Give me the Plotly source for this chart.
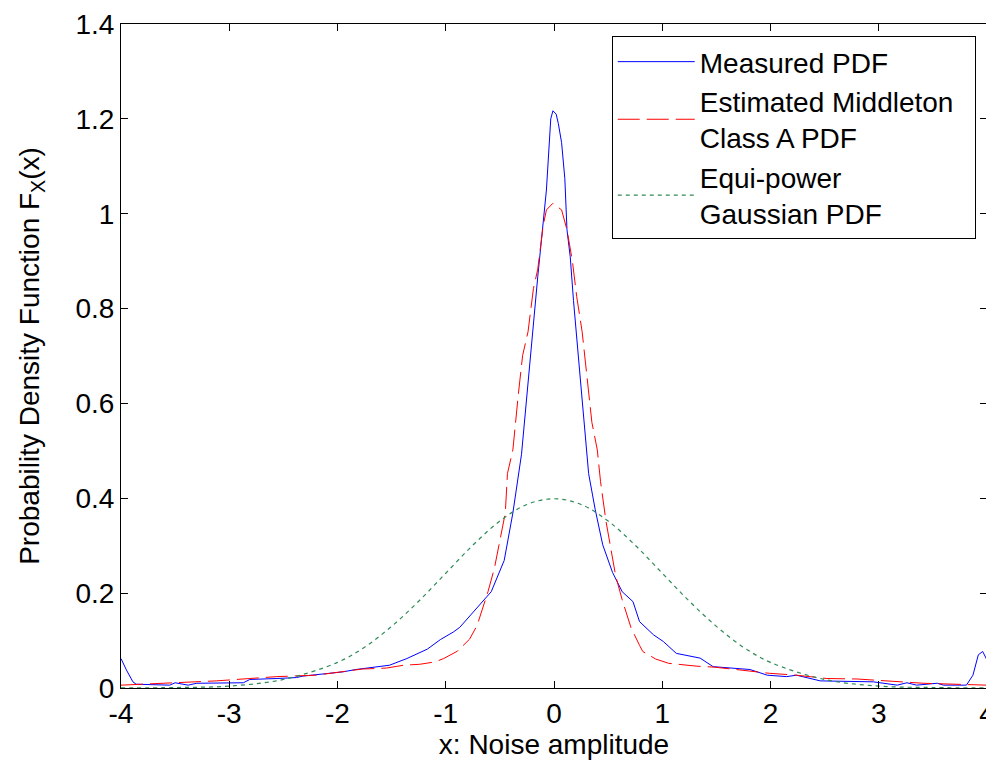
import plotly.graph_objects as go

# Measured PDF (blue)
blue_x = [-4.0, -3.95, -3.89, -3.86, -3.55, -3.50, -3.38, -3.30, -2.87, -2.81, -2.56, -2.38, -2.32,
          -1.95, -1.83, -1.64, -1.52, -1.36, -1.17, -1.05, -0.93, -0.87, -0.74, -0.58, -0.46, -0.38,
          -0.30, -0.25, -0.19, -0.15, -0.07, -0.03, -0.01, 0.02, 0.04, 0.07, 0.10, 0.12, 0.15, 0.18,
          0.24, 0.27, 0.32, 0.38, 0.45, 0.54, 0.63, 0.73, 0.79, 0.92, 1.01, 1.13, 1.35, 1.47, 1.81,
          1.97, 2.15, 2.24, 2.46, 2.95, 3.17, 3.26, 3.35, 3.54, 3.60, 3.81, 3.87, 3.92, 3.96, 4.0]
blue_y = [0.062, 0.038, 0.013, 0.008, 0.006, 0.011, 0.006, 0.010, 0.011, 0.018, 0.020, 0.022, 0.025,
          0.034, 0.039, 0.044, 0.048, 0.062, 0.082, 0.102, 0.118, 0.128, 0.161, 0.203, 0.269, 0.369,
          0.493, 0.618, 0.751, 0.867, 1.05, 1.20, 1.217, 1.21, 1.19, 1.15, 1.074, 0.966, 0.909, 0.817,
          0.66, 0.576, 0.452, 0.377, 0.302, 0.244, 0.203, 0.182, 0.14, 0.112, 0.098, 0.073, 0.063, 0.045,
          0.039, 0.027, 0.024, 0.027, 0.015, 0.013, 0.006, 0.011, 0.006, 0.010, 0.006, 0.006, 0.027,
          0.070, 0.077, 0.059]

# Estimated Middleton Class A PDF (red)
red_x = [-4.0, -3.42, -3.12, -2.81, -2.56, -2.2, -1.77, -1.55, -1.39, -1.24, -1.1, -1.02, -0.89, -0.78,
         -0.71, -0.61, -0.55, -0.5, -0.45, -0.43, -0.38, -0.33, -0.29, -0.24, -0.19, -0.15, -0.10, -0.07,
         -0.01, 0.07, 0.12, 0.17, 0.21, 0.26, 0.31, 0.35, 0.40, 0.43, 0.48, 0.52, 0.57, 0.63, 0.71, 0.79,
         0.82, 0.94, 1.06, 1.32, 1.48, 1.68, 1.99, 2.24, 2.52, 2.8, 3.07, 3.41, 4.0]
red_y = [0.006, 0.011, 0.015, 0.02, 0.024, 0.027, 0.04, 0.042, 0.048, 0.05, 0.055, 0.062, 0.078, 0.103,
         0.132, 0.203, 0.253, 0.311, 0.369, 0.452, 0.502, 0.618, 0.701, 0.751, 0.842, 0.883, 0.975, 1.008,
         1.022, 1.008, 0.966, 0.9, 0.825, 0.751, 0.651, 0.56, 0.502, 0.435, 0.352, 0.302, 0.236, 0.186,
         0.128, 0.09, 0.077, 0.061, 0.052, 0.046, 0.044, 0.039, 0.031, 0.027, 0.02, 0.019, 0.015, 0.01,
         0.006]

# Equi-power Gaussian PDF (green)
green_x = [-4, -3.5, -3, -2.5, -2, -1.75, -1.5, -1.25, -1, -0.75, -0.5, -0.25, 0,
           0.25, 0.5, 0.75, 1, 1.25, 1.5, 1.75, 2, 2.5, 3, 3.5, 4]
green_y = [0.0001, 0.001, 0.004, 0.018, 0.054, 0.086, 0.13, 0.183, 0.242, 0.301, 0.352, 0.387, 0.399,
           0.387, 0.352, 0.301, 0.242, 0.183, 0.13, 0.086, 0.054, 0.018, 0.004, 0.001, 0.0001]

x_ticks = [-4, -3, -2, -1, 0, 1, 2, 3, 4]
x_labels = ["-4", "-3", "-2", "-1", "0", "1", "2", "3", "4"]
y_ticks = [0, 0.2, 0.4, 0.6, 0.8, 1.0, 1.2, 1.4]
y_labels = ["0", "0.2", "0.4", "0.6", "0.8", "1", "1.2", "1.4"]

FONT = "Liberation Sans, Arial, sans-serif"
FS = 28

fig = go.Figure()
fig.add_trace(go.Scatter(x=blue_x, y=blue_y, mode="lines", name="Measured PDF",
                         line=dict(color="#0000FF", width=1)))
fig.add_trace(go.Scatter(x=red_x, y=red_y, mode="lines",
                         name="Estimated Middleton\u00a0\u00a0<br>Class A PDF",
                         line=dict(color="#FF0000", width=1, dash="22px,7px")))
fig.add_trace(go.Scatter(x=green_x, y=green_y, mode="lines", name="Equi-power<br>Gaussian PDF",
                         line=dict(color="#2E8B57", width=1.2, dash="4px,4px", shape="spline")))

axis_common = dict(showline=True, linecolor="black", linewidth=1, mirror="ticks",
                   ticks="inside", ticklen=7, tickcolor="black", showgrid=False, zeroline=False,
                   ticklabeloverflow="allow",
                   tickfont=dict(family=FONT, size=FS, color="black"))

fig.update_layout(
    width=986, height=758,
    margin=dict(l=113, r=7, t=16, b=78, autoexpand=False),
    paper_bgcolor="white", plot_bgcolor="white",
    font=dict(family=FONT, size=FS, color="black"),
    xaxis=dict(range=[-4, 4], tickvals=x_ticks, ticktext=x_labels,
               title=dict(text="x: Noise amplitude", font=dict(family=FONT, size=FS), standoff=4),
               **axis_common),
    yaxis=dict(range=[0, 1.4], tickvals=y_ticks, ticktext=y_labels,
               title=dict(text="Probability Density Function F<sub>X</sub>(x)",
                          font=dict(family=FONT, size=FS), standoff=27),
               **axis_common),
    legend=dict(x=0.987, y=0.982, xanchor="right", yanchor="top",
                bgcolor="white", bordercolor="black", borderwidth=1,
                font=dict(family=FONT, size=FS), itemwidth=77),
    showlegend=True,
)

fig.write_html("out.html")
